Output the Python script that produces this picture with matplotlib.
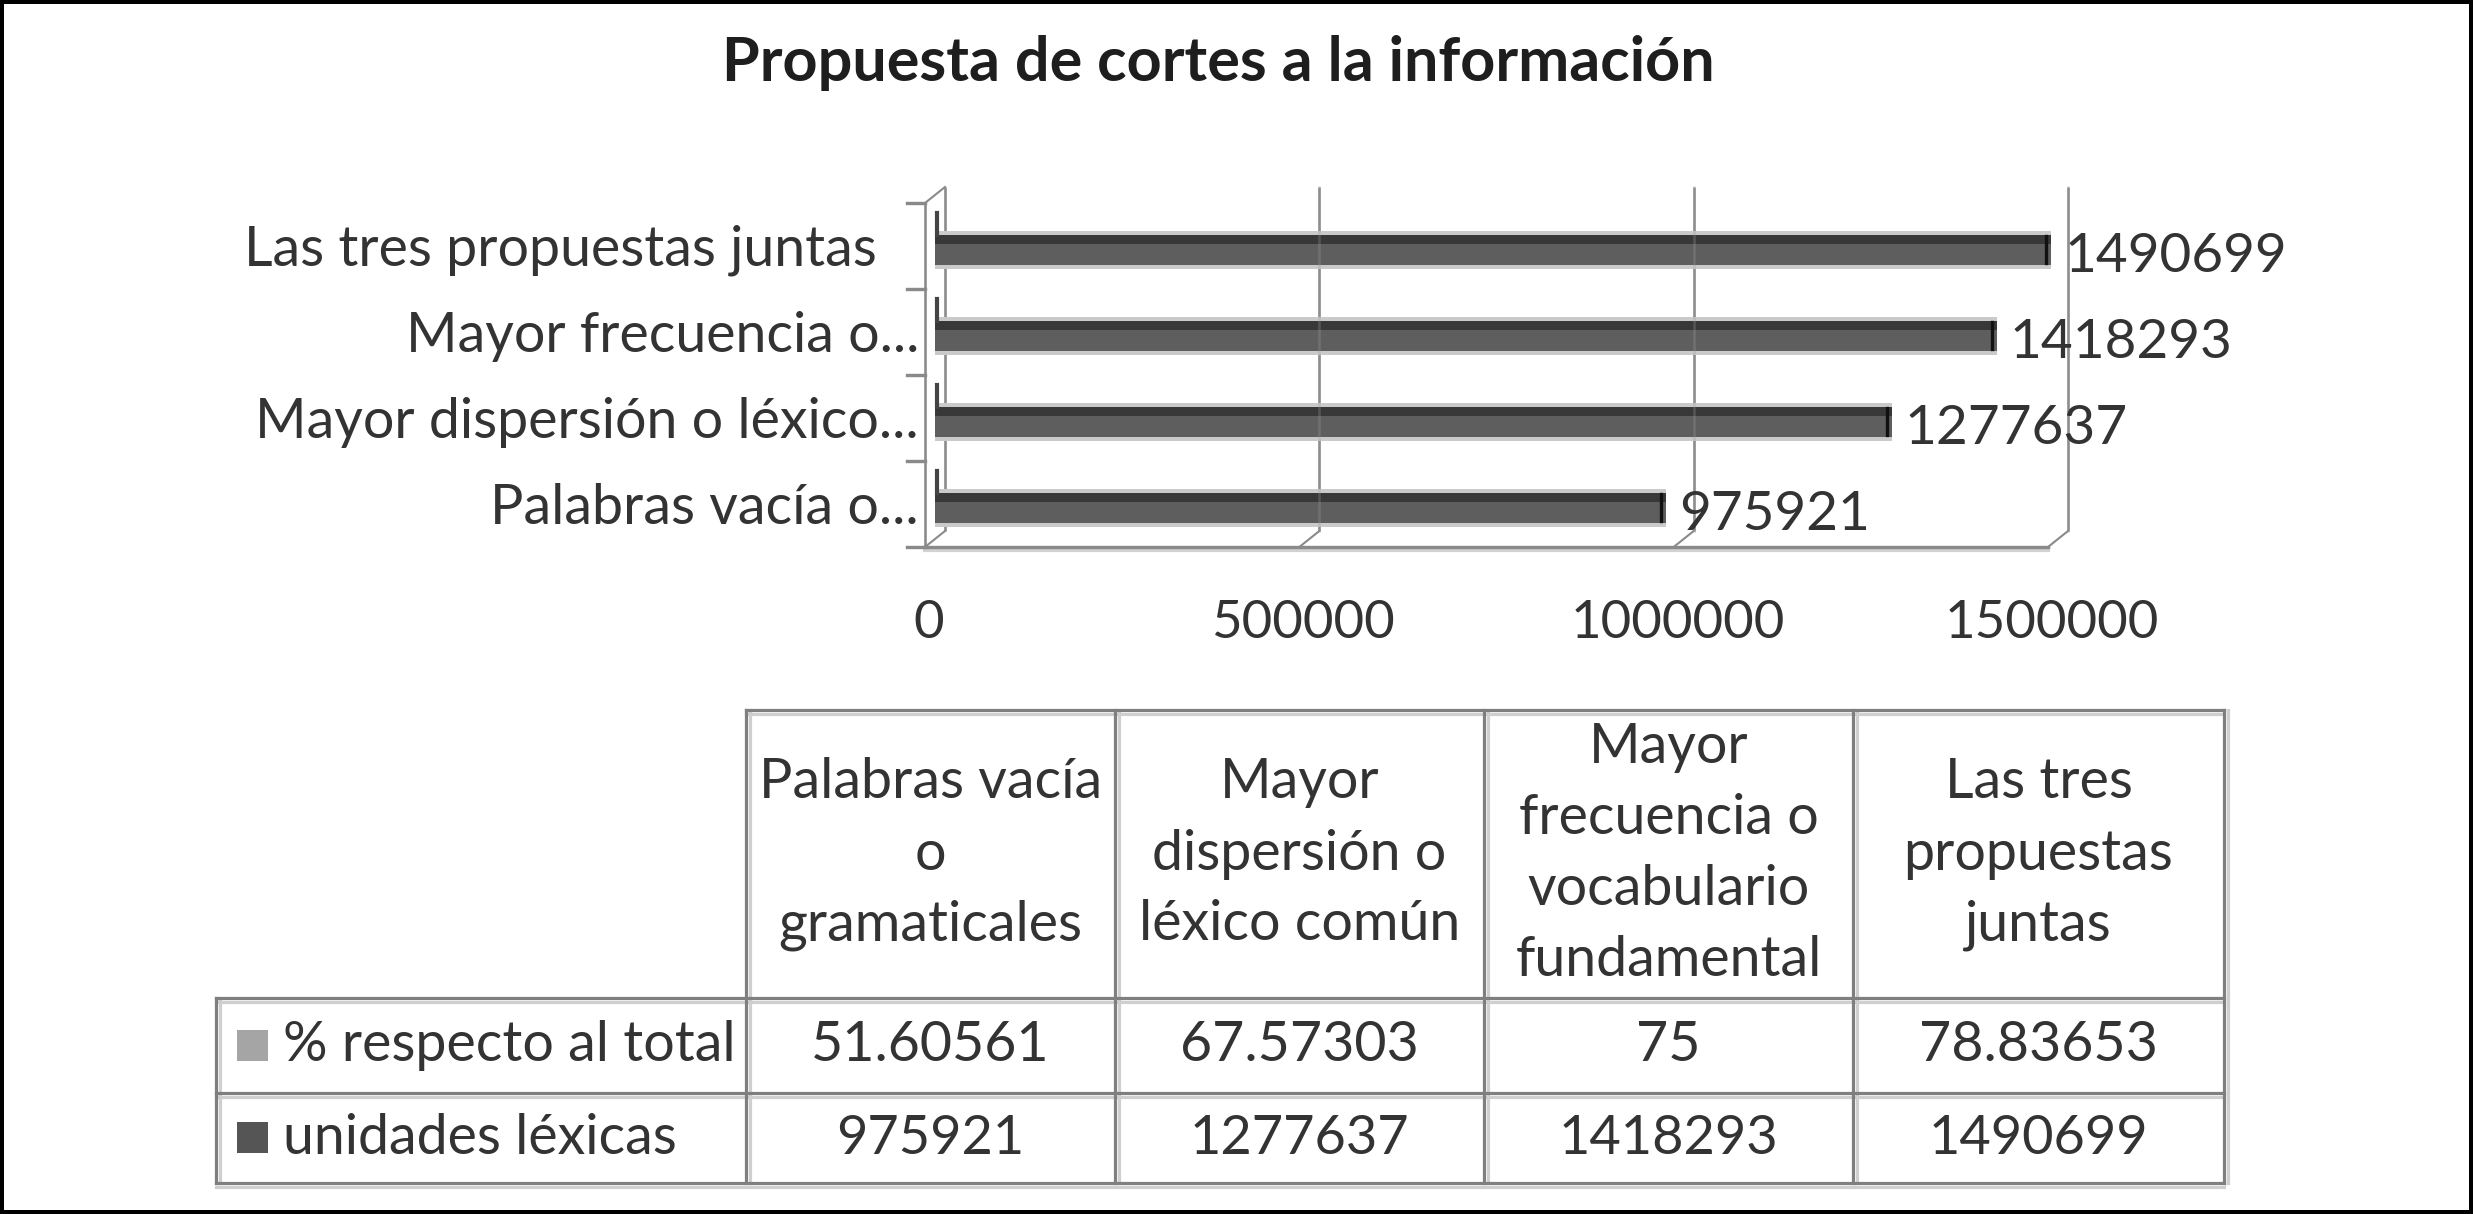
import matplotlib
matplotlib.use("Agg")
import matplotlib.pyplot as plt
from matplotlib.patches import Rectangle

plt.rcParams['font.family'] = ['Lato', 'DejaVu Sans']

# ---------------- data ----------------
title = "Propuesta de cortes a la información"
bar_labels = ["Palabras vacía o...", "Mayor dispersión o léxico...",
              "Mayor frecuencia o...", "Las tres propuestas juntas\u00a0\u00a0\u00a0"]
unidades = [975921, 1277637, 1418293, 1490699]
porcentaje = [51.60561, 67.57303, 75, 78.83653]
porcentaje_txt = ["51.60561", "67.57303", "75", "78.83653"]
x_ticks = [0, 500000, 1000000, 1500000]
x_tick_labels = ["0", "500000", "1000000", "1500000"]
table_headers = ["Palabras vacía\no\ngramaticales",
                 "Mayor\ndispersión o\nléxico común",
                 "Mayor\nfrecuencia o\nvocabulario\nfundamental",
                 "Las tres\npropuestas\njuntas"]
row_names = ["% respecto al total", "unidades léxicas"]
row_colors = ["#a5a5a5", "#555555"]

W, H = 2473, 1214
fig = plt.figure(figsize=(W / 100, H / 100), dpi=100)
fig.patch.set_facecolor("white")

TXT = "#333333"
FS = 40

# ---------------- chart geometry (pixels) ----------------
X0_PX, X15_PX = 935, 2058          # value 0 and 1.5M
PXU = (X15_PX - X0_PX) / 1500000.0  # px per unit
Y_TOP_PX, Y_BOT_PX = 203, 547       # category boundaries 3.5 / -0.5
PYU = (Y_BOT_PX - Y_TOP_PX) / 4.0

ax_l, ax_r, ax_t, ax_b = 880, 2100, 160, 570
ax = fig.add_axes([ax_l / W, 1 - ax_b / H, (ax_r - ax_l) / W, (ax_b - ax_t) / H])
ax.set_xlim((ax_l - X0_PX) / PXU, (ax_r - X0_PX) / PXU)
ax.set_ylim(-0.5 - (ax_b - Y_BOT_PX) / PYU, 3.5 + (Y_TOP_PX - ax_t) / PYU)
ax.axis("off")

Dx = 10 / PXU      # depth offset (x)
Dy = 16 / PYU      # depth offset (y)
GRID = "#8a8a8a"
lw_grid = 2.6 * 0.72

# back wall gridlines with slant to floor
for t in x_ticks:
    ax.plot([t + Dx, t + Dx], [-0.5 + Dy, 3.5 + Dy], color=GRID, lw=lw_grid, zorder=1,
            solid_capstyle="butt")
    ax.plot([t + Dx, t - Dx], [-0.5 + Dy, -0.5], color=GRID, lw=lw_grid * 0.8, zorder=1)
# floor front line (with soft shadow)
ax.plot([-Dx, x_ticks[-1] - Dx], [-0.5 - 0.04, -0.5 - 0.04], color="#d2d2d2", lw=lw_grid * 1.6, zorder=0.8)
ax.plot([-Dx, x_ticks[-1] - Dx], [-0.5, -0.5], color=GRID, lw=lw_grid * 1.3, zorder=1)
# front vertical axis + ticks
ax.plot([-Dx, -Dx], [-0.5, 3.5], color=GRID, lw=lw_grid, zorder=1)
ax.plot([-Dx, Dx], [3.5, 3.5 + Dy], color=GRID, lw=lw_grid * 0.8, zorder=1)
for b in [-0.5, 0.5, 1.5, 2.5, 3.5]:
    ax.plot([-Dx, -Dx - 18 / PXU], [b, b], color=GRID, lw=lw_grid * 1.3, zorder=1)

# bars
ys = [i - 0.05 for i in range(len(unidades))]
bh = 0.35
ax.barh(ys, unidades, height=bh + 0.09, color="#cacaca", zorder=2)
ax.barh(ys, unidades, height=bh, color="#5e5e5e", zorder=3)
ax.barh([y + bh / 2 - 0.05 for y in ys], unidades, height=0.10, color="#383838", zorder=3.5)
# gridlines faintly visible through bars
for t in x_ticks[1:]:
    ax.plot([t + Dx, t + Dx], [-0.5 + Dy, 3.5 + Dy], color="#9a9a9a", lw=lw_grid, alpha=0.3,
            zorder=3.6)
# bar ends and bar side marks
for y, v in zip(ys, unidades):
    ax.plot([v - 5 / PXU, v - 5 / PXU], [y - bh / 2 + 0.03, y + bh / 2 - 0.01], color="#111111",
            lw=2.4, zorder=4)
    ax.plot([2 / PXU, 2 / PXU], [y + bh / 2, y + bh / 2 + 0.26], color="#444444", lw=3.0, zorder=4)
    ax.text(v + 13 / PXU, y - 6 / PYU, str(v), ha="left", va="center", fontsize=39.5,
            color=TXT, zorder=5)

# category labels
for y, lab in zip(ys, bar_labels):
    ax.text(-16 / PXU, y, lab, ha="right", va="center", fontsize=FS, color=TXT)

# x tick labels
for t, lab in zip(x_ticks, x_tick_labels):
    ax.text(t - 6 / PXU, -0.5 - (623 - Y_BOT_PX) / PYU, lab, ha="center", va="center",
            fontsize=38, color=TXT)

# ---------------- canvas for title, table, frame (pixel coords) ----------------
cv = fig.add_axes([0, 0, 1, 1], zorder=-1)
cv.set_xlim(0, W)
cv.set_ylim(H, 0)
cv.axis("off")

cv.text(1218, 63, title, ha="center", va="center", fontsize=44, fontweight="bold",
        color="#1e1e1e")

# table layout
col_edges = [216, 746, 1115, 1484, 1853, 2224]
row_edges = [710, 998, 1093, 1183]
LINE = "#7f7f7f"
SHADOW = "#cfcfcf"
lw_t = 3.2 * 0.72

def hline(x1, x2, y):
    cv.plot([x1, x2], [y + 4, y + 4], color=SHADOW, lw=lw_t, zorder=1)
    cv.plot([x1, x2], [y, y], color=LINE, lw=lw_t, zorder=2, solid_capstyle="projecting")

def vline(x, y1, y2):
    cv.plot([x + 4, x + 4], [y1, y2], color=SHADOW, lw=lw_t, zorder=1)
    cv.plot([x, x], [y1, y2], color=LINE, lw=lw_t, zorder=2, solid_capstyle="projecting")

hline(col_edges[1], col_edges[-1], row_edges[0])
for y in row_edges[1:]:
    hline(col_edges[0], col_edges[-1], y)
vline(col_edges[0], row_edges[1], row_edges[-1])
for x in col_edges[1:]:
    vline(x, row_edges[0], row_edges[-1])

# header text, line by line
LS = 71
hdr_cy = (row_edges[0] + row_edges[1]) / 2
for j, hdr in enumerate(table_headers):
    cx = (col_edges[j + 1] + col_edges[j + 2]) / 2
    lines = hdr.split("\n")
    n = len(lines)
    for k, ln in enumerate(lines):
        cy = hdr_cy + (k - (n - 1) / 2) * LS
        cv.text(cx, cy, ln, ha="center", va="center", fontsize=FS, color=TXT)

# data rows
rows = [porcentaje_txt, [str(v) for v in unidades]]
for r, (name, col, vals) in enumerate(zip(row_names, row_colors, rows)):
    cy = (row_edges[r + 1] + row_edges[r + 2]) / 2
    cv.add_patch(Rectangle((237, cy - 16), 31, 31, facecolor=col, edgecolor="none"))
    cv.text(283, cy, name, ha="left", va="center", fontsize=FS, color=TXT)
    for j, v in enumerate(vals):
        cx = (col_edges[j + 1] + col_edges[j + 2]) / 2
        cv.text(cx, cy, v, ha="center", va="center", fontsize=39 if r == 1 else FS, color=TXT)

# outer black frame
cv.add_patch(Rectangle((0, 0), W, H, facecolor="none", edgecolor="black", lw=8 * 0.72,
                       clip_on=False))

fig.savefig("out.png", dpi=100, facecolor="white")
